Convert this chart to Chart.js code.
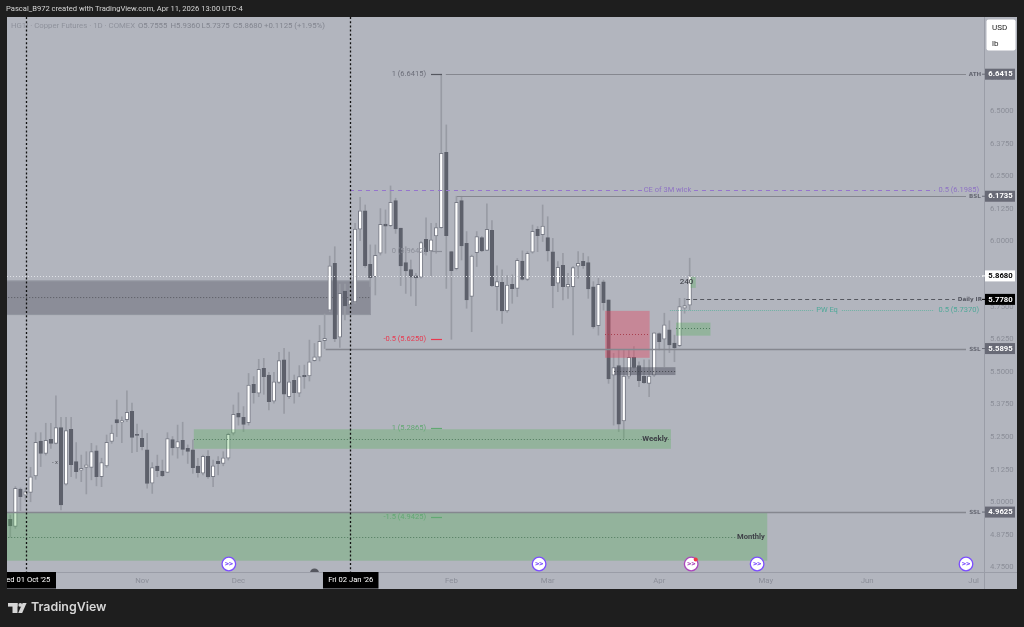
<!DOCTYPE html>
<html><head><meta charset="utf-8">
<style>html,body{margin:0;padding:0;background:#1e1e1e;overflow:hidden}canvas{display:block}</style>
<script src="https://cdn.jsdelivr.net/npm/chart.js@4/dist/chart.umd.min.js"></script>
</head><body><canvas id="c" width="1024" height="627"></canvas>
<script>
const firstBar=-3;
const opens=[4.935,4.907,5.051,5.027,5.038,5.101,5.235,5.187,5.241,5.226,5.286,5.069,5.280,5.156,5.123,5.134,5.134,5.197,5.098,5.139,5.233,5.317,5.307,5.317,5.349,5.261,5.245,5.201,5.073,5.139,5.120,5.115,5.240,5.208,5.238,5.207,5.201,5.139,5.112,5.176,5.098,5.157,5.149,5.169,5.265,5.341,5.326,5.305,5.452,5.418,5.514,5.488,5.388,5.460,5.546,5.405,5.468,5.418,5.487,5.485,5.543,5.556,5.620,5.737,5.916,5.633,5.810,5.757,5.768,6.047,6.118,5.912,5.865,5.955,6.067,6.061,6.157,6.051,5.919,5.892,5.868,5.863,6.008,5.964,6.021,6.053,6.342,5.961,5.896,6.157,5.993,5.789,5.957,6.015,5.966,6.043,5.827,5.843,5.734,5.836,5.820,5.925,5.855,5.959,6.047,6.026,6.015,5.960,5.840,5.909,5.826,5.827,5.905,5.924,5.919,5.826,5.677,5.845,5.776,5.487,5.524,5.312,5.484,5.556,5.524,5.483,5.456,5.487,5.647,5.625,5.661,5.610,5.601,5.744,5.7555];
const highs=[4.951,5.060,5.055,5.054,5.134,5.267,5.267,5.303,5.303,5.408,5.326,5.326,5.326,5.229,5.181,5.194,5.226,5.217,5.169,5.258,5.296,5.392,5.328,5.427,5.380,5.300,5.277,5.264,5.152,5.181,5.162,5.267,5.252,5.296,5.307,5.220,5.239,5.169,5.181,5.198,5.162,5.175,5.194,5.265,5.373,5.420,5.367,5.494,5.482,5.548,5.552,5.498,5.498,5.575,5.590,5.576,5.488,5.524,5.526,5.622,5.609,5.678,5.722,5.944,5.980,5.837,5.837,5.833,6.070,6.169,6.140,5.987,5.987,6.126,6.121,6.213,6.166,6.051,5.980,5.929,5.878,6.000,6.091,6.070,6.070,6.6415,6.447,5.961,6.1735,6.1735,6.038,5.948,6.038,6.019,6.144,6.080,5.907,5.891,5.869,5.872,5.935,5.964,5.961,6.063,6.057,6.140,6.095,6.012,5.923,5.955,5.878,5.904,5.961,5.955,5.942,5.846,5.859,5.852,5.776,5.571,5.584,5.584,5.584,5.597,5.539,5.546,5.546,5.650,5.650,5.725,5.696,5.641,5.782,5.782,5.936];
const lows=[4.866,4.900,4.968,5.009,5.002,5.088,5.137,5.181,5.207,5.224,4.971,5.066,5.098,5.092,5.079,5.032,5.086,5.063,5.060,5.134,5.226,5.252,5.229,5.309,5.190,5.194,5.201,5.054,5.034,5.098,5.098,5.114,5.181,5.169,5.181,5.149,5.111,5.096,5.105,5.092,5.060,5.105,5.140,5.162,5.258,5.296,5.271,5.296,5.380,5.405,5.414,5.354,5.380,5.456,5.341,5.398,5.380,5.405,5.437,5.465,5.541,5.542,5.5895,5.731,5.616,5.594,5.699,5.744,5.763,6.003,5.901,5.827,5.795,5.948,5.955,6.057,6.031,5.831,5.801,5.791,5.754,5.859,5.948,5.868,5.955,6.051,5.820,5.625,5.891,5.929,5.744,5.654,5.904,5.961,5.965,5.827,5.737,5.686,5.728,5.763,5.789,5.852,5.850,5.955,5.961,6.000,5.925,5.746,5.808,5.776,5.782,5.642,5.859,5.897,5.782,5.667,5.641,5.737,5.456,5.296,5.271,5.245,5.475,5.514,5.443,5.456,5.405,5.482,5.584,5.520,5.574,5.539,5.597,5.725,5.7375];
const closes=[4.909,5.054,5.022,5.041,5.098,5.230,5.187,5.238,5.226,5.286,4.990,5.275,5.144,5.117,5.130,5.144,5.194,5.098,5.152,5.230,5.265,5.304,5.313,5.345,5.249,5.256,5.213,5.072,5.133,5.121,5.102,5.244,5.208,5.233,5.203,5.195,5.133,5.114,5.176,5.097,5.140,5.148,5.170,5.261,5.337,5.326,5.299,5.449,5.420,5.510,5.482,5.386,5.462,5.543,5.415,5.462,5.420,5.482,5.482,5.539,5.558,5.617,5.629,5.907,5.626,5.801,5.753,5.776,6.048,6.118,5.907,5.861,5.947,6.066,6.059,6.150,6.048,5.906,5.887,5.863,5.860,5.996,5.961,6.006,6.053,6.338,6.022,5.888,6.150,5.983,5.776,5.944,6.019,5.964,6.047,5.831,5.846,5.734,5.833,5.819,5.928,5.855,5.955,6.039,6.022,6.059,5.964,5.831,5.901,5.827,5.836,5.900,5.916,5.907,5.818,5.672,5.836,5.765,5.473,5.517,5.300,5.484,5.556,5.517,5.466,5.459,5.484,5.650,5.616,5.680,5.603,5.592,5.750,5.754,5.868];

const priceTicks=[6.625,6.5,6.375,6.25,6.125,6,5.875,5.75,5.625,5.5,5.375,5.25,5.125,5,4.875,4.75];
const monthBars=[23,42,84,103,125,146,166,187];
const monthNames=['Nov','Dec','Feb','Mar','Apr','May','Jun','Jul'];
const cursorBars=[0,64];
const cursorLabels=["Wed 01 Oct '25","Fri 02 Jan '26"];
const eventBars=[40.1,101.3,144.3,185.5];
const alertBar=131.3;

// zone: bar from, bar to, price high, price low, price mid
const greyZone=[-4,68.1,5.850,5.718,5.785];
const overlayZones=[
 [33.2,127.3,5.280,5.205,5.242,'g'],
 [-4,146.3,4.9625,4.776,4.867,'g'],
 [128.3,135.1,5.689,5.639,5.667,'g'],
 [131.2,132.2,5.865,5.822,null,'g'],
 [114.3,123.1,5.734,5.554,5.644,'r'],
 [116.1,128.2,5.518,5.488,5.503,'k']
];
const levelPrices=[6.6415,6.1735,5.5895,4.9625];
const levelStarts=[82.9,85.1,59.2,-4];
const levelNames=['ATH','BSL','SSL','SSL'];
const fibPrices=[6.6415,5.9642,5.625,5.2865,4.9425];
const fibTexts=['1 (6.6415)','0 (5.9642)','-0.5 (5.6250)','1 (5.2865)','-1.5 (4.9425)'];
const cePrice=6.1985, lastPrice=5.868, irPrice=5.778, pwPrice=5.737;

const UP='#ffffff',DN='#5d606b',UPB='#787b86',WICK='#989ba4';
const bars=opens.map((o,i)=>firstBar+i);
const isUp=opens.map((o,i)=>closes[i]>=o);
const F='Roboto, sans-serif';

function txt(c,s,x,y,font,col,al){c.font=font;c.fillStyle=col;c.textAlign=al||'left';c.textBaseline='middle';c.fillText(s,x,y);}
function hline(c,x1,x2,y,col,w,dash){c.save();c.strokeStyle=col;c.lineWidth=w;c.setLineDash(dash||[]);c.beginPath();c.moveTo(x1,y);c.lineTo(x2,y);c.stroke();c.restore();}

const deco={id:'deco',
 beforeDraw(ch){const c=ch.ctx;
  c.fillStyle='#1e1e1e';c.fillRect(0,0,1024,627);
  c.fillStyle='#b2b5be';c.fillRect(7,17,1010,572);
  c.strokeStyle='#9a9da7';c.lineWidth=1;
  c.beginPath();c.moveTo(7,572.5);c.lineTo(1017,572.5);c.moveTo(984.5,17);c.lineTo(984.5,589);c.stroke();
 },
 beforeDatasetsDraw(ch){const c=ch.ctx,X=ch.scales.x,Y=ch.scales.y,a=ch.chartArea;
  c.save();c.beginPath();c.rect(a.left,a.top,a.right-a.left,a.bottom-a.top);c.clip();
  const z=greyZone,x1=X.getPixelForValue(z[0]),x2=X.getPixelForValue(z[1]),y1=Y.getPixelForValue(z[2]),y2=Y.getPixelForValue(z[3]);
  c.fillStyle='#8b8d98';c.fillRect(x1,y1,x2-x1,y2-y1);
  c.fillStyle='#9296a0';c.fillRect(x1,y1,x2-x1,1);c.fillRect(x1,y2-1,x2-x1,1);
  hline(c,x1,x2,Y.getPixelForValue(z[4]),'#55575f',1,[1,2]);
  c.restore();
 },
 afterDatasetsDraw(ch){const c=ch.ctx,X=ch.scales.x,Y=ch.scales.y,a=ch.chartArea;
  const px=v=>X.getPixelForValue(v),py=v=>Math.round(Y.getPixelForValue(v))+.5;
  const right=px(185.5);
  c.save();c.beginPath();c.rect(a.left,a.top,a.right-a.left,a.bottom-a.top);c.clip();
  // zones
  overlayZones.forEach(z=>{const x1=px(z[0]),x2=px(z[1]),y1=Y.getPixelForValue(z[2]),y2=Y.getPixelForValue(z[3]);
   c.fillStyle=z[5]==='g'?'rgba(76,175,80,.3)':z[5]==='r'?'rgba(226,72,98,.42)':'rgba(80,82,95,.5)';
   c.fillRect(x1,y1,x2-x1,y2-y1);
   if(z[4]!==null)hline(c,x1,x2-(z[5]==='g'&&z[1]>120&&z[1]<140?0:(z[5]==='g'?32:0)),py(z[4]),z[5]==='r'?'#a8404f':z[5]==='g'?'#4f7a5d':'#45474f',1,[1,2]);
  });
  // levels
  levelPrices.forEach((p,i)=>{hline(c,px(levelStarts[i]),right,py(p),'#85878f',i===2||i===3?1.3:1.1);
   txt(c,levelNames[i],975,py(p),'bold 5.6px "DejaVu Sans"','#666873','center');
  });
  hline(c,px(64),px(179.4),py(cePrice),'#9575cd',1,[4,4]);
  c.fillStyle='#b2b5be';c.fillRect(642,py(cePrice)-3,51,6);
  txt(c,'CE of 3M wick',667.5,py(cePrice),'7.5px '+F,'#8e72c4','center');
  txt(c,'0.5 (6.1985)',979,py(cePrice),'7.5px '+F,'#8e72c4','right');
  hline(c,7,984,py(lastPrice),'#dfe1e6',1,[1,2]);
  hline(c,px(130.3),px(183.3),py(irPrice),'#55575f',1.2,[4,3]);
  txt(c,'Daily IR',982,py(irPrice),'bold 5.6px "DejaVu Sans"','#555761','right');
  hline(c,px(127.1),px(179.2),py(pwPrice),'#6fb3a5',1,[1,1]);
  c.fillStyle='#b2b5be';c.fillRect(814,py(pwPrice)-3,27,6);
  txt(c,'PW Eq',827,py(pwPrice),'7.5px '+F,'#4fa899','center');
  txt(c,'0.5 (5.7370)',979,py(pwPrice),'7.5px '+F,'#4fa899','right');
  // fib
  const fibCol=['#6b6d78','#8b8e98','#e8394f','#62a873','#62a873'];
  fibPrices.forEach((p,i)=>{const y=py(p);
   hline(c,431,442,y,i===0?'#55575f':fibCol[i],1.2);
   txt(c,fibTexts[i],426,y,'7.5px '+F,fibCol[i],'right');});
  txt(c,'Weekly',655,py(5.242),'bold 7.8px '+F,'#3f4148','center');
  txt(c,'Monthly',751,py(4.867),'bold 7.6px '+F,'#3f4148','center');
  txt(c,'240',686.5,py(5.85),'8px '+F,'#33353c','center');
  txt(c,'- x',55,462,'6px '+F,'#55575f','center');
  // cursor lines
  cursorBars.forEach(b=>{c.save();c.strokeStyle='#111';c.lineWidth=1.3;c.setLineDash([2,2.2]);c.beginPath();const x=Math.round(px(b))+.5;c.moveTo(x,17);c.lineTo(x,572);c.stroke();c.restore();});
  // event icons
  const ico=(b,col)=>{const x=px(b),y=564;c.beginPath();c.arc(x,y,6.8,0,7);c.fillStyle='#fff';c.fill();c.lineWidth=1.3;c.strokeStyle=col;c.stroke();
   txt(c,'>>',x,y,'bold 8px '+F,col,'center');};
  eventBars.forEach(b=>ico(b,'#7c4dff'));
  ico(alertBar,'#ab47bc');
  c.beginPath();c.arc(px(alertBar)+4.5,559.5,2,0,7);c.fillStyle='#f23645';c.fill();
  c.beginPath();c.arc(314.5,573,4.5,Math.PI,0);c.fillStyle='#55575f';c.fill();
  c.restore();
  c.save();c.beginPath();c.rect(7,17,1010,572);c.clip();
  // time cursor boxes
  cursorBars.forEach((b,i)=>{const cx=px(b)+.5;const wd=i===0?62:55.5;const x0=i===0?-6:cx-27.5;
   c.fillStyle='#000';c.fillRect(x0,572,wd,16.5);
   txt(c,cursorLabels[i],x0+wd/2,580.5,'7.6px '+F,'#fff','center');});
  // price boxes
  const box=(p,bg,fg)=>{const y=Y.getPixelForValue(p);c.fillStyle=bg;c.fillRect(985,y-5.5,30,11);txt(c,p.toFixed(4),1000.5,y+.3,'bold 7.7px '+F,fg,'center');
   hline(c,982,985,y,bg,1);};
  [6.6415,6.1735,5.5895,4.9625].forEach(p=>box(p,'#686a76','#fff'));
  box(lastPrice,'#fff','#000');box(irPrice,'#000','#fff');
  // currency box
  c.fillStyle='#fff';c.beginPath();c.roundRect(986.5,19.5,29,31,2);c.fill();
  txt(c,'USD',992,27.5,'8px '+F,'#222','left');txt(c,'lb',992,44,'8px '+F,'#222','left');
  c.restore();
  // header text
  txt(c,'Pascal_B972 created with TradingView.com, Apr 11, 2026 13:00 UTC-4',6,9.5,'7.6px '+F,'#d6d6d6','left');
  txt(c,'HG1! · Copper Futures · 1D · COMEX',11,26.5,'7.8px '+F,'#8f929c','left');
  txt(c,'O5.7555',138,26.5,'7.8px '+F,'#82858f','left');
  txt(c,'H5.9360',170.5,26.5,'7.8px '+F,'#82858f','left');
  txt(c,'L5.7375',201.5,26.5,'7.8px '+F,'#82858f','left');
  txt(c,'C5.8680',233,26.5,'7.8px '+F,'#82858f','left');
  txt(c,'+0.1125 (+1.95%)',264,26.5,'7.8px '+F,'#82858f','left');
  // logo
  c.fillStyle='#d6d6d6';
  c.fillRect(8,603,9.5,3.6);c.fillRect(12.5,603,5,10);
  c.beginPath();c.arc(20.3,604.9,1.9,0,7);c.fill();
  c.beginPath();c.moveTo(22.6,603);c.lineTo(26.6,603);c.lineTo(22.2,613);c.lineTo(18.2,613);c.closePath();c.fill();
  txt(c,'TradingView',31,607.5,'600 12.4px Inter, sans-serif','#d6d6d6','left');
 }};

new Chart(document.getElementById('c'),{
 type:'bar',
 data:{datasets:[
  {label:'Range',data:bars.map((b,i)=>({x:b,y:[lows[i],highs[i]]})),backgroundColor:WICK,barThickness:1,grouped:false,order:2},
  {label:'HG1!',data:bars.map((b,i)=>({x:b,y:[opens[i],closes[i]]})),backgroundColor:isUp.map(u=>u?UP:DN),borderColor:isUp.map(u=>u?UPB:DN),borderWidth:1,borderSkipped:false,barThickness:3.6,grouped:false,order:1}
 ]},
 options:{responsive:false,animation:false,devicePixelRatio:1,
  layout:{padding:{left:7,right:7,top:17,bottom:38}},
  plugins:{legend:{display:false},tooltip:{enabled:false}},
  scales:{
   x:{type:'linear',offset:false,min:-3.649,max:189.05,grid:{display:false,drawTicks:false},border:{display:false},
    afterBuildTicks(s){s.ticks=monthBars.map(v=>({value:v}));},
    afterFit(s){s.height=17;},
    ticks:{autoSkip:false,maxRotation:0,padding:4,color:'#8b8e98',font:{family:'Roboto',size:7.8},
     callback:v=>monthNames[monthBars.indexOf(v)]||''}},
   y:{type:'linear',position:'right',min:4.7327,max:6.8608,grid:{display:false,drawTicks:false},border:{display:false},
    afterBuildTicks(s){s.ticks=priceTicks.map(v=>({value:v}));},
    afterFit(s){s.width=33;},
    ticks:{autoSkip:false,padding:6,color:'#8b8e98',font:{family:'Roboto',size:7.7},
     callback:v=>v.toFixed(4)}}
  }
 },
 plugins:[deco]
});
</script></body></html>
